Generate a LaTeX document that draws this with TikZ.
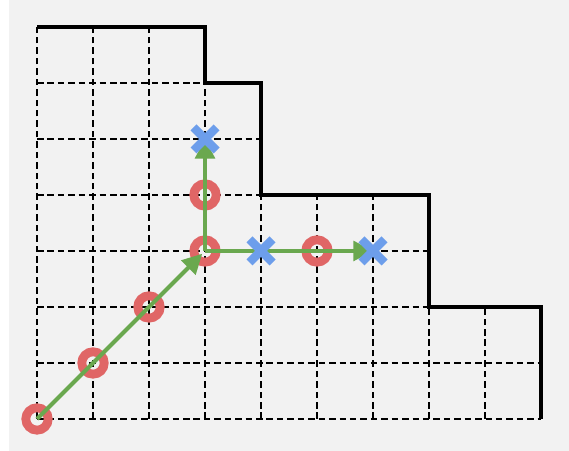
\documentclass[tikz,border=0pt]{standalone}
\usepackage{tikz}
\usetikzlibrary{arrows.meta}
\usetikzlibrary{shapes.misc}
\definecolor{PathGreen}{RGB}{106,168,79}
\definecolor{VisitRed}{RGB}{224,102,102}
\definecolor{FrontBlue}{RGB}{109,158,235}
\definecolor{PaperGray}{RGB}{242,242,242}

\begin{document}
\begin{tikzpicture}[
 gridline/.style = {draw, dash pattern=on 3.3pt off 2pt, line width=0.8pt},
 wall/.style = {draw, line width=1.7pt},
 visited/.style = {draw=VisitRed, circle, line width=4.5pt, minimum size=0.4cm, inner sep=0pt},
 frontier/.style = {draw=FrontBlue, cross out, line width=4.3pt, minimum size=0.26cm, inner sep=0pt},
 move/.style = {draw=PathGreen, line width=2pt, -{Triangle[length=10pt,width=10pt]}},
 ]

    \useasboundingbox (-0.661,-0.571) rectangle (9.5,7.482);
    \fill [PaperGray] (-0.5,-0.571) rectangle (9.5,7.482);

    % dashed cells
    \foreach \x/\h in {0/7,1/7,2/7,3/6,4/4,5/4,6/4,7/2,8/2}
        \draw [gridline] (\x,0) -- (\x,\h);
    \foreach \y/\w in {0/9,1/9,2/7,3/7,4/4,5/4,6/3}
        \draw [gridline] (0,\y) -- (\w,\y);

    % staircase border
    \draw [wall] (0,7) -- (3,7) -- (3,6) -- (4,6) -- (4,4) -- (7,4) -- (7,2) -- (9,2) -- (9,0);

    \node [visited] (start) at (0,0) {};
    \node [visited] (diag1) at (1,1) {};
    \node [visited] (diag2) at (2,2) {};
    \node [visited] (corner) at (3,3) {};
    \node [visited] (up1) at (3,4) {};
    \node [visited] (right2) at (5,3) {};

    \coordinate (up2) at (3,5);
    \coordinate (right1) at (4,3);
    \coordinate (right3) at (6,3);

    \path (start.center) edge [move, shorten >=2pt] (corner.center)
          (corner.center) edge [move] (up2)
          (corner.center) edge [move] (right3);

    \node [frontier] at (up2) {};
    \node [frontier] at (right1) {};
    \node [frontier] at (right3) {};

\end{tikzpicture}
\end{document}
